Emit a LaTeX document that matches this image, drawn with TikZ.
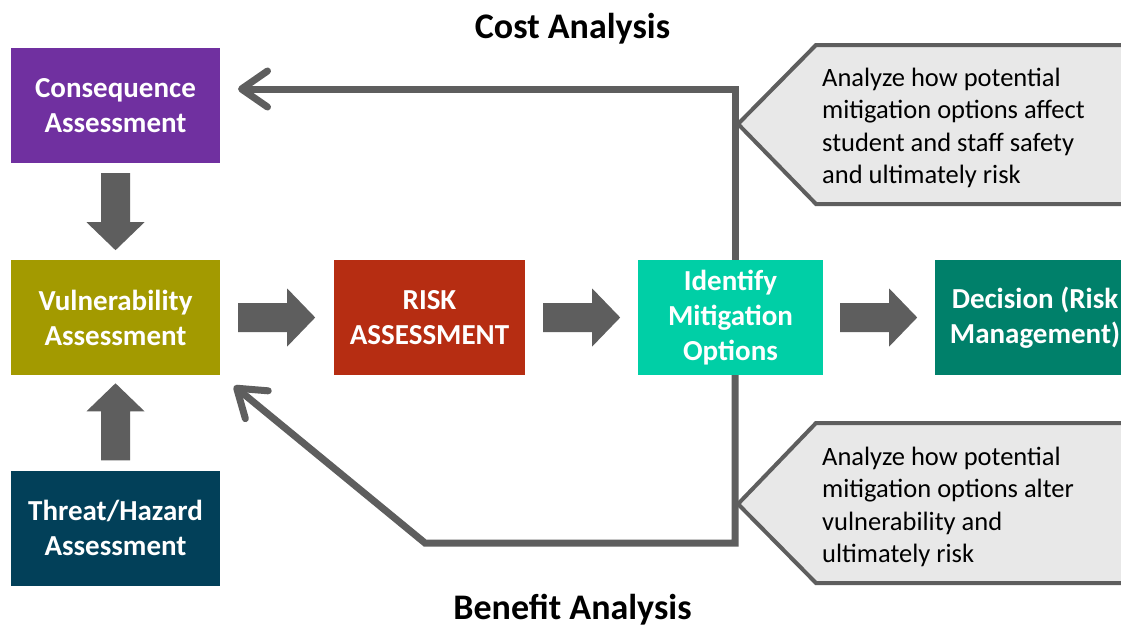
\documentclass[tikz,border=0pt]{standalone}
\usepackage{fontspec}
\setmainfont{Carlito}
\usetikzlibrary{arrows.meta,calc}
\definecolor{cpurple}{HTML}{7030A0}
\definecolor{colive}{HTML}{A39A00}
\definecolor{cnavy}{HTML}{024059}
\definecolor{cred}{HTML}{B62D12}
\definecolor{cteal}{HTML}{00CFA6}
\definecolor{cgreen}{HTML}{00806A}
\definecolor{agray}{HTML}{5E5E5E}
\definecolor{cfill}{HTML}{E8E8E8}
\newcommand\blkarrow[2]{\fill[agray, shift={#1}, rotate=#2] (0,-14.5) -- (49,-14.5) -- (49,-29) -- (77,0) -- (49,29) -- (49,14.5) -- (0,14.5) -- cycle;}
\begin{document}
\begin{tikzpicture}[x=1pt,y=-1pt,
  box/.style={rectangle, fill=#1, text=white, font=\bfseries\fontsize{29}{35}\selectfont, align=center, inner sep=0pt, minimum height=115pt},
  conn/.style={draw=agray, line width=7pt, -{Straight Barb[length=26pt,width=36pt,line cap=round,line join=round]}},
  callout/.style={fill=cfill, draw=agray, line width=4pt},
  ctext/.style={font=\fontsize{26.5}{32.5}\selectfont, align=left, inner sep=0pt, text=black},
  title/.style={font=\bfseries\fontsize{36}{40}\selectfont, inner sep=0pt}]
\useasboundingbox (0,0) rectangle (1121,627);
\clip (0,0) rectangle (1121,627);
\fill[white] (0,0) rectangle (1121,627);

% boxes
\node[box=cpurple, minimum width=209pt] (cons) at (115.5,105.5) {Consequence\\Assessment};
\node[box=colive, minimum width=209pt] (vul) at (115.5,317.5) {Vulnerability\\Assessment};
\node[box=cnavy, minimum width=209pt] (thr) at (115.5,528) {Threat/Hazard\\Assessment};
\node[box=cred, minimum width=191pt] (risk) at (429.5,317.5) {RISK\\ASSESSMENT};
\node[box=cteal, minimum width=185pt] (iden) at (730.5,317.5) {Identify\\Mitigation\\Options};
\node[box=cgreen, minimum width=200pt] (dec) at (1035,317.5) {Decision (Risk\\Management)};

% block arrows
\blkarrow{($(cons.south)+(0,10)$)}{-90}
\blkarrow{($(thr.north)+(0,-10)$)}{90}
\blkarrow{($(vul.east)+(18,0)$)}{0}
\blkarrow{($(risk.east)+(18,0)$)}{0}
\blkarrow{($(iden.east)+(17,0)$)}{0}

% connectors
\coordinate (tc) at (735,89);
\coordinate (tt) at (238,89);
\coordinate (bc) at (735,543);
\coordinate (bl) at (425,543);
\coordinate (bt) at (234,386);
\draw[conn] (iden.north -| tc) -- (tc) -- (tt);
\draw[conn] (iden.south -| bc) -- (bc) -- (bl) -- (bt);

% callouts
\draw[callout] (738,124) -- (816,45) -- (1135,45) -- (1135,204) -- (816,204) -- cycle;
\node[ctext, anchor=base west] (c1) at (822,183.5) {Analyze how potential\\mitigation options affect\\student and staff safety\\and ultimately risk};
\draw[callout] (738,504) -- (816,423) -- (1135,423) -- (1135,583) -- (816,583) -- cycle;
\node[ctext, anchor=base west] (c2) at (822,562.5) {Analyze how potential\\mitigation options alter\\vulnerability and\\ultimately risk};

% titles
\node[title, anchor=base] (cost) at (572.5,38) {Cost Analysis};
\node[title, anchor=base] (ben) at (572.5,619) {Benefit Analysis};
\end{tikzpicture}
\end{document}
